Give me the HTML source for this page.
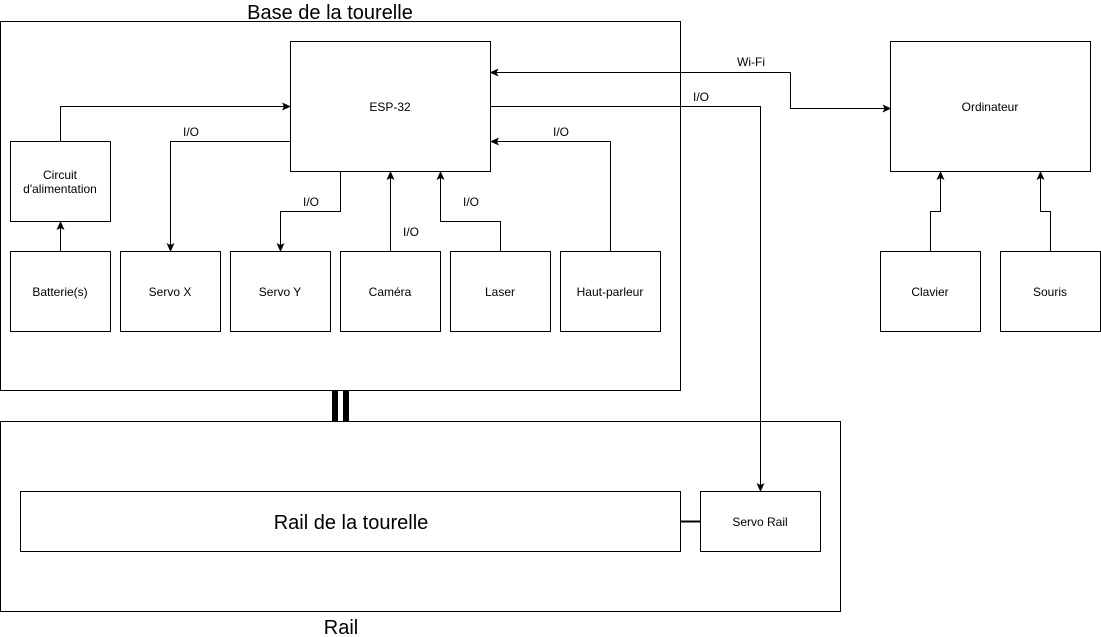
<!DOCTYPE html>
<html><head><meta charset="utf-8"><style>
html,body{margin:0;padding:0;background:#fff;}
svg{display:block;font-family:"Liberation Sans",Arial,sans-serif;}
</style></head><body>
<svg width="1101" height="637" viewBox="0 0 1101 637" xmlns="http://www.w3.org/2000/svg">
<defs>
<marker id="a" markerWidth="10" markerHeight="10" refX="8" refY="4" orient="auto" markerUnits="userSpaceOnUse">
<path d="M0,0 L9,4 L0,8 L2,4 Z" fill="#000"/></marker>
</defs>
<g fill="#fff" stroke="#000" stroke-width="1">
<rect x="0.5" y="21.5" width="680" height="369"/>
<rect x="0.5" y="421.5" width="840" height="190"/>
<rect x="290.5" y="41.5" width="200" height="130"/>
<rect x="890.5" y="41.5" width="200" height="130"/>
<rect x="10.5" y="141.5" width="100" height="80"/>
<rect x="10.5" y="251.5" width="100" height="80"/>
<rect x="120.5" y="251.5" width="100" height="80"/>
<rect x="230.5" y="251.5" width="100" height="80"/>
<rect x="340.5" y="251.5" width="100" height="80"/>
<rect x="450.5" y="251.5" width="100" height="80"/>
<rect x="560.5" y="251.5" width="100" height="80"/>
<rect x="880.5" y="251.5" width="100" height="80"/>
<rect x="1000.5" y="251.5" width="100" height="80"/>
<rect x="20.5" y="491.5" width="660" height="60"/>
<rect x="700.5" y="491.5" width="120" height="60"/>
</g>
<rect x="332" y="391" width="6" height="30" fill="#000"/>
<rect x="343" y="391" width="6" height="30" fill="#000"/>
<line x1="681" y1="521.5" x2="700" y2="521.5" stroke="#000" stroke-width="2"/>
<g fill="none" stroke="#000" stroke-width="1">
<path d="M790.5,72.5 L490.5,72.5" marker-end="url(#a)"/>
<path d="M790.5,72.5 L790.5,108.5 L890.5,108.5" marker-end="url(#a)"/>
<path d="M490.5,106.5 L760.5,106.5 L760.5,491" marker-end="url(#a)"/>
<path d="M60.5,141 L60.5,106.5 L290,106.5" marker-end="url(#a)"/>
<path d="M290,141.5 L170.5,141.5 L170.5,251" marker-end="url(#a)"/>
<path d="M340.5,171.5 L340.5,211.5 L280.5,211.5 L280.5,251" marker-end="url(#a)"/>
<path d="M390.5,251 L390.5,172" marker-end="url(#a)"/>
<path d="M500.5,251 L500.5,221.5 L440.5,221.5 L440.5,172" marker-end="url(#a)"/>
<path d="M610.5,251 L610.5,141.5 L491,141.5" marker-end="url(#a)"/>
<path d="M60.5,251 L60.5,222" marker-end="url(#a)"/>
<path d="M930.5,251 L930.5,211.5 L940.5,211.5 L940.5,172" marker-end="url(#a)"/>
<path d="M1050.5,251 L1050.5,211.5 L1040.5,211.5 L1040.5,172" marker-end="url(#a)"/>
</g>
<g font-size="12" fill="#000" text-anchor="middle">
<text x="390" y="111">ESP-32</text>
<text x="990" y="111">Ordinateur</text>
<text x="60" y="179">Circuit</text>
<text x="60" y="193">d'alimentation</text>
<text x="60" y="296">Batterie(s)</text>
<text x="170" y="296">Servo X</text>
<text x="280" y="296">Servo Y</text>
<text x="390" y="296">Caméra</text>
<text x="500" y="296">Laser</text>
<text x="610" y="296">Haut-parleur</text>
<text x="930" y="296">Clavier</text>
<text x="1050" y="296">Souris</text>
<text x="760" y="526">Servo Rail</text>
<text x="751" y="66">Wi-Fi</text>
<text x="701" y="101">I/O</text>
<text x="191" y="136">I/O</text>
<text x="561" y="136">I/O</text>
<text x="311" y="206">I/O</text>
<text x="471" y="206">I/O</text>
<text x="411" y="236">I/O</text>
</g>
<g font-size="20" fill="#000" text-anchor="middle">
<text x="330" y="19">Base de la tourelle</text>
<text x="351" y="529">Rail de la tourelle</text>
<text x="341" y="634">Rail</text>
</g>
</svg>
</body></html>
